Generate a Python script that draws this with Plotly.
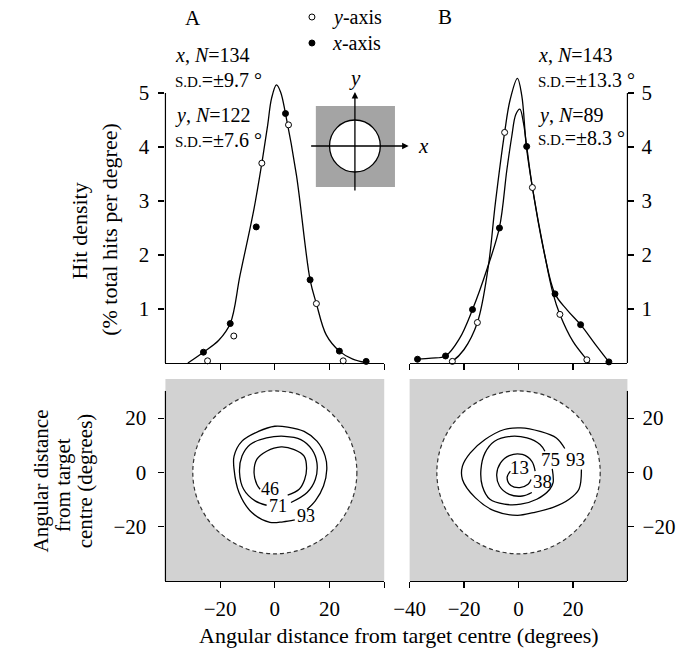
import plotly.graph_objects as go

FONT = "Liberation Serif"
W, H = 687, 650

# ---------------- data ----------------
# Panel A (top): fitted density curve and measured points
a_fit_x = [-31.8, -26.1, -20.5, -16.3, -12.7, -7.6, -4.75, -2.6, -1.2, 0.6, 2.1, 3.9, 7.9, 12.9, 15.2, 18.8, 23.6, 28.5, 34.0]
a_fit_y = [0.0, 0.20, 0.42, 0.73, 1.63, 2.86, 3.70, 4.41, 4.90, 5.15, 5.02, 4.62, 3.48, 1.54, 1.10, 0.52, 0.22, 0.07, 0.0]
a_xpts_x = [-26.1, -16.3, -6.8, 3.9, 12.9, 23.6, 33.4]
a_xpts_y = [0.20, 0.73, 2.52, 4.62, 1.54, 0.22, 0.03]
a_ypts_x = [-24.6, -15.0, -4.75, 5.0, 15.2, 25.0]
a_ypts_y = [0.04, 0.50, 3.70, 4.41, 1.10, 0.04]

# Panel B (top): two fitted curves and measured points
b_fitx_x = [-37.1, -32.0, -26.8, -21.7, -16.9, -11.5, -7.0, -4.3, -2.5, -1.0, 0.5, 1.8, 3.0, 5.1, 9.5, 13.4, 17.9, 22.8, 28.0, 33.2]
b_fitx_y = [0.07, 0.09, 0.13, 0.45, 0.99, 1.75, 2.51, 3.57, 4.19, 4.60, 4.70, 4.45, 4.01, 3.25, 2.03, 1.28, 0.98, 0.71, 0.36, 0.02]
b_fity_x = [-25.5, -24.3, -20.0, -15.1, -11.2, -8.5, -5.1, -3.1, -0.4, 1.2, 2.9, 5.1, 9.5, 12.6, 15.2, 20.0, 25.1, 26.0]
b_fity_y = [0.0, 0.03, 0.25, 0.75, 1.75, 2.96, 4.27, 4.87, 5.27, 4.95, 4.00, 3.25, 2.03, 1.30, 0.90, 0.40, 0.06, 0.0]
b_xpts_x = [-37.1, -26.8, -16.9, -7.0, 3.0, 13.4, 22.8, 33.2]
b_xpts_y = [0.07, 0.13, 0.99, 2.50, 4.01, 1.28, 0.71, 0.02]
b_ypts_x = [-24.3, -15.1, -5.1, 5.1, 15.2, 25.1]
b_ypts_y = [0.03, 0.75, 4.27, 3.25, 0.90, 0.06]

# Bottom panels: hit-distribution contours (degrees)
a_c46_x = [4.7, 8.9, 10.9, 11.6, 10.7, 7.1, 2.3, -3.0, -6.6, -7.6, -6.6, -5.4]
a_c46_y = [-8.4, -6.2, -2.6, 1.7, 6.0, 8.4, 9.4, 7.8, 4.8, -0.1, -4.4, -6.2]
a_c71_x = [5.9, 11.8, 14.8, 15.4, 13.6, 9.5, 3.5, -3.0, -9.0, -12.0, -12.9, -11.4, -7.2, -3.0]
a_c71_y = [-11.1, -7.4, -2.6, 3.5, 8.4, 12.1, 13.3, 12.7, 10.3, 6.0, -0.1, -6.2, -10.5, -12.1]
a_c93_x = [11.8, 14.8, 17.8, 19.0, 18.4, 15.4, 10.7, 4.7, 0.0, -6.0, -12.0, -14.9, -14.9, -13.1, -8.4, -1.8, 3.0, 7.3]
a_c93_y = [-13.6, -10.5, -5.0, 1.1, 6.0, 11.5, 15.1, 16.7, 17.0, 15.1, 11.5, 6.0, 1.1, -7.4, -14.8, -18.4, -18.2, -17.5]

b_c13_x = [-3.0, -4.2, -2.8, 0.5, 3.5, 4.6]
b_c13_y = [0.5, -1.9, -4.8, -5.6, -4.4, -2.6]
b_c38_x = [6.1, 4.9, 1.4, -3.4, -6.6, -8.0, -7.0, -3.4, 1.4, 4.9]
b_c38_y = [0.5, 4.1, 6.6, 6.2, 3.5, -0.7, -5.0, -8.1, -8.7, -7.4]
b_c75_x = [12.4, 12.7, 11.5, 6.7, 0.8, -5.2, -10.5, -13.3, -13.8, -12.3, -8.8, -2.8, 3.1, 7.9, 9.7]
b_c75_y = [1.3, -3.8, -6.2, -9.9, -11.7, -11.7, -9.9, -5.0, 1.1, 7.2, 11.5, 13.3, 12.7, 10.3, 7.8]
b_c93_x = [23.1, 22.2, 18.6, 12.7, 5.5, -0.4, -8.8, -15.9, -20.6, -20.6, -17.7, -12.3, -5.2, 0.8, 7.9, 13.9, 17.0]
b_c93_y = [1.1, -6.2, -9.9, -12.9, -14.8, -15.8, -14.2, -9.3, -2.6, 2.3, 7.2, 12.1, 15.8, 16.4, 15.1, 12.7, 8.8]

a_lab_text = ["46", "71", "93"]
a_lab_x = [-1.8, 1.1, 11.3]
a_lab_y = [-6.0, -12.5, -16.0]
b_lab_text = ["13", "38", "75", "93"]
b_lab_x = [0.2, 8.9, 11.7, 20.8]
b_lab_y = [1.7, -3.5, 4.8, 4.8]

target_radius = 30

density_ticks = [1, 2, 3, 4, 5]
angle_ticks = [-20, 0, 20]
a_xticks = [-20, 0, 20, 40]
a_xticktext = ["\u221220", "0", "20", ""]
b_xticks = [-40, -20, 0, 20]
b_xticktext = ["\u221240", "\u221220", "0", "20"]
angle_ticktext = ["\u221220", "0", "20"]

a_stats = ["<i>x</i>, <i>N</i>=134", "<span style='font-size:15px'>S.D.</span>=\u00b19.7 \u00b0",
           "<i>y</i>, <i>N</i>=122", "<span style='font-size:15px'>S.D.</span>=\u00b17.6 \u00b0"]
b_stats = ["<i>x</i>, <i>N</i>=143", "<span style='font-size:15px'>S.D.</span>=\u00b113.3 \u00b0",
           "<i>y</i>, <i>N</i>=89", "<span style='font-size:15px'>S.D.</span>=\u00b18.3 \u00b0"]

# ---------------- helpers ----------------
def px(x):
    return x / W

def py(y):
    return 1 - y / H

fig = go.Figure()

def curve(x, y, xa, ya):
    fig.add_trace(go.Scatter(x=x, y=y, xaxis=xa, yaxis=ya, mode="lines",
                             line=dict(color="black", width=1.3, shape="spline", smoothing=1.0),
                             hoverinfo="skip"))

def points(x, y, xa, ya, filled):
    fig.add_trace(go.Scatter(x=x, y=y, xaxis=xa, yaxis=ya, mode="markers", cliponaxis=False,
                             marker=dict(symbol="circle", size=6,
                                         color="black" if filled else "white",
                                         line=dict(color="black", width=1)),
                             hoverinfo="skip"))

# top A
curve(a_fit_x, a_fit_y, "x", "y")
points(a_xpts_x, a_xpts_y, "x", "y", True)
points(a_ypts_x, a_ypts_y, "x", "y", False)
# top B
curve(b_fitx_x, b_fitx_y, "x2", "y2")
curve(b_fity_x, b_fity_y, "x2", "y2")
points(b_xpts_x, b_xpts_y, "x2", "y2", True)
points(b_ypts_x, b_ypts_y, "x2", "y2", False)
# bottom contours
for cx, cy in [(a_c46_x, a_c46_y), (a_c71_x, a_c71_y), (a_c93_x, a_c93_y)]:
    curve(cx, cy, "x3", "y3")
for cx, cy in [(b_c13_x, b_c13_y), (b_c38_x, b_c38_y), (b_c75_x, b_c75_y), (b_c93_x, b_c93_y)]:
    curve(cx, cy, "x4", "y4")

tickfont = dict(family=FONT, size=21, color="black")

def axis(domain, rng, tickvals, anchor, ticktext=None, labels=True, side=None, showline=True, standoff=None):
    d = dict(domain=domain, range=rng, tickvals=tickvals, anchor=anchor,
             ticks="outside", ticklen=6, tickwidth=1.2, tickcolor="black",
             showgrid=False, zeroline=False, showline=showline, linecolor="black",
             linewidth=1.2, showticklabels=labels, tickfont=tickfont, fixedrange=True)
    if ticktext is not None:
        d["ticktext"] = ticktext
    if side:
        d["side"] = side
    if standoff is not None:
        d["ticklabelstandoff"] = standoff
    return d

xa_dom = [px(153), px(377)]
xb_dom = [px(403), px(626)]
ytop_dom = [py(363), py(363 - 5.3 * 54)]
ybot_dom = [py(581), py(379)]

fig.update_layout(
    width=W, height=H, margin=dict(l=0, r=0, t=0, b=0),
    paper_bgcolor="white", plot_bgcolor="rgba(0,0,0,0)", showlegend=False,
    font=dict(family=FONT, color="black", size=20),
    xaxis=axis(xa_dom, [-40, 40], a_xticks, "y", labels=False),
    yaxis=axis(ytop_dom, [0, 5.3], density_ticks, "x", showline=False, standoff=5),
    xaxis2=axis(xb_dom, [-40, 40], b_xticks, "y2", labels=False),
    yaxis2=axis(ytop_dom, [0, 5.3], density_ticks, "x2", side="right", showline=False, standoff=3),
    xaxis3=axis(xa_dom, [-40, 40], a_xticks, "y3", ticktext=a_xticktext, standoff=3),
    yaxis3=axis(ybot_dom, [-40, 34.4], angle_ticks, "x3", ticktext=angle_ticktext, showline=False, standoff=8),
    xaxis4=axis(xb_dom, [-40, 40], b_xticks, "y4", ticktext=b_xticktext, standoff=3),
    yaxis4=axis(ybot_dom, [-40, 34.4], angle_ticks, "x4", ticktext=angle_ticktext, side="right", showline=False, standoff=4),
)

shapes = []
# partial y-axis lines
shapes.append(dict(type="line", xref="x domain", yref="y", x0=0, x1=0, y0=0, y1=density_ticks[-1], line=dict(color="black", width=1.2)))
shapes.append(dict(type="line", xref="x2 domain", yref="y2", x0=1, x1=1, y0=0, y1=density_ticks[-1], line=dict(color="black", width=1.2)))
shapes.append(dict(type="line", xref="x3 domain", yref="y3", x0=0, x1=0, y0=-40, y1=target_radius, line=dict(color="black", width=1.2)))
shapes.append(dict(type="line", xref="x4 domain", yref="y4", x0=1, x1=1, y0=-40, y1=target_radius, line=dict(color="black", width=1.2)))
# shading + target circle
for xr, yr in [("x3", "y3"), ("x4", "y4")]:
    shapes.append(dict(type="rect", xref=xr + " domain", yref=yr + " domain", x0=0, x1=1, y0=0, y1=1,
                       fillcolor="#d2d2d2", line=dict(width=0), layer="below"))
    shapes.append(dict(type="circle", xref=xr, yref=yr, x0=-target_radius, x1=target_radius,
                       y0=-target_radius, y1=target_radius, fillcolor="white",
                       line=dict(color="#333", width=1.2, dash="4px,3px"), layer="below"))
# inset diagram
shapes.append(dict(type="rect", xref="paper", yref="paper", x0=px(307), x1=px(388), y0=py(187), y1=py(106),
                   fillcolor="#a4a4a4", line=dict(width=0)))
shapes.append(dict(type="circle", xref="paper", yref="paper", x0=px(321), x1=px(373), y0=py(172), y1=py(120),
                   fillcolor="white", line=dict(color="black", width=1.3)))
# legend symbols
for yy, fill in [(17, "white"), (43, "black")]:
    shapes.append(dict(type="circle", xref="paper", yref="paper", xsizemode="pixel", ysizemode="pixel",
                       xanchor=px(303), yanchor=py(yy), x0=-3, x1=3, y0=-3, y1=3,
                       fillcolor=fill, line=dict(color="black", width=1)))
fig.update_layout(shapes=shapes)

ann = []
def text(x, y, t, size=20, xanchor="center", angle=0, xref="paper", yref="paper", yanchor="middle", pad=1):
    ann.append(dict(x=x, y=y, xref=xref, yref=yref, text=t, showarrow=False, xanchor=xanchor,
                    yanchor=yanchor, textangle=angle, borderpad=pad,
                    font=dict(family=FONT, size=size, color="black")))

# panel letters and legend
text(px(181), py(18), "A", 21)
text(px(439), py(17), "B", 21)
text(px(321), py(17), "<i>y</i>-axis", 20, "left")
text(px(321), py(43), "<i>x</i>-axis", 20, "left")
# stats
for t, yy in zip(a_stats, [55, 80, 115, 140]):
    text(px(161), py(yy), t, 20, "left")
for t, yy in zip(b_stats, [55, 80, 115, 138]):
    text(px(532), py(yy), t, 20, "left")
# axis titles
text(px(65), py(231), "Hit density", 22, angle=-90)
text(px(95), py(229), "(% total hits per degree)", 22, angle=-90)
text(px(26), py(481), "Angular distance", 21, angle=-90)
text(px(48), py(485), "from target", 21, angle=-90)
text(px(71), py(481), "centre (degrees)", 21, angle=-90)
text(px(392), py(650), "Angular distance from target centre (degrees)", 22, yanchor="bottom")
# inset labels
text(px(347), py(78), "<i>y</i>", 21)
text(px(417), py(146), "<i>x</i>", 21)
# contour labels
for t, x, y in zip(a_lab_text, a_lab_x, a_lab_y):
    text(x, y, t, 18, xref="x3", yref="y3", pad=0)
for t, x, y in zip(b_lab_text, b_lab_x, b_lab_y):
    text(x, y, t, 19, xref="x4", yref="y4", pad=0)
# inset arrows
ann.append(dict(x=px(347), y=py(92), xref="paper", yref="paper", text="", showarrow=True,
                ax=0, ay=100, arrowhead=2, arrowsize=1, arrowwidth=1.3, arrowcolor="black"))
ann.append(dict(x=px(402), y=py(146), xref="paper", yref="paper", text="", showarrow=True,
                ax=-99, ay=0, arrowhead=2, arrowsize=1, arrowwidth=1.3, arrowcolor="black"))
fig.update_layout(annotations=ann)

fig.write_html("out.html", config={"displayModeBar": False, "staticPlot": True},
               post_script="document.body.style.margin='0';document.body.style.padding='0';"
                           "document.body.style.overflow='hidden';"
                           "document.documentElement.style.overflow='hidden';")
